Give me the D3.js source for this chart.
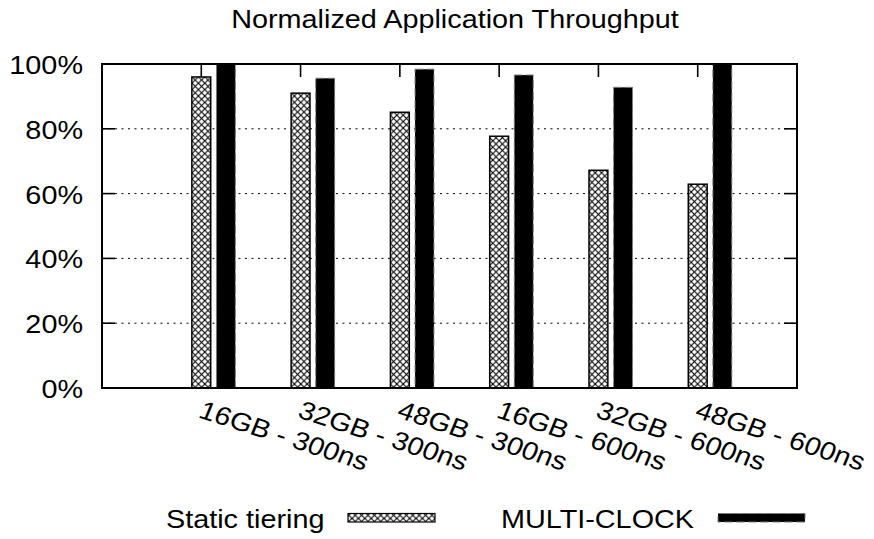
<!DOCTYPE html>
<html>
<head>
<meta charset="utf-8">
<script src="https://cdn.jsdelivr.net/npm/d3@7"></script>
<style>
  body { margin: 0; background: #fff; }
  text { font-family: "Liberation Sans", Arial, sans-serif; font-size: 25.5px; fill: #000; }
</style>
</head>
<body>
<div id="chart"></div>
<script>
// chart data
var categories = ["16GB - 300ns", "32GB - 300ns", "48GB - 300ns", "16GB - 600ns", "32GB - 600ns", "48GB - 600ns"];
var staticTiering = [96, 91, 85.1, 77.7, 67.2, 62.9];
var multiClock = [100, 95.6, 98.4, 96.6, 92.8, 100];
var yTicks = [0, 20, 40, 60, 80, 100];
var seriesNames = ["Static tiering", "MULTI-CLOCK"];

var W = 874, H = 539;
var plot = {left: 102, right: 797, top: 64, bottom: 388};
var sx = 1.13; // text looks horizontally stretched in the original

var svg = d3.select("#chart").append("svg")
  .attr("width", W).attr("height", H);

var defs = svg.append("defs");
var pat = defs.append("pattern")
  .attr("id", "hatch")
  .attr("patternUnits", "userSpaceOnUse")
  .attr("width", 6.4).attr("height", 6.4);
pat.append("rect").attr("width", 6.4).attr("height", 6.4).attr("fill", "#fff");
pat.append("path")
  .attr("d", "M-1,-1L7.4,7.4M-1,7.4L7.4,-1")
  .attr("stroke", "#000").attr("stroke-width", 1.1);

var x = d3.scaleLinear().domain([-1, 6]).range([plot.left, plot.right]);
var y = d3.scaleLinear().domain([0, 100]).range([plot.bottom, plot.top]);

var addText = function(g, px, py, str, anchor, rot){
  var t = g.append("g")
    .attr("transform", "translate(" + px + "," + py + ") scale(" + sx + ",1)" + (rot ? " rotate(" + rot + ")" : ""));
  t.append("text").attr("text-anchor", anchor).text(str);
  return t;
};

// grid lines
svg.append("g").selectAll("line")
  .data(yTicks.filter(function(d){ return d > 0 && d < 100; }))
  .enter().append("line")
  .attr("x1", plot.left).attr("x2", plot.right)
  .attr("y1", function(d){ return y(d); }).attr("y2", function(d){ return y(d); })
  .attr("stroke", "#000").attr("stroke-width", 1)
  .attr("stroke-dasharray", "2,4.5");

// tick marks (inward, mirrored)
var ticks = svg.append("g").attr("stroke", "#000").attr("stroke-width", 1.6);
yTicks.forEach(function(d){
  ticks.append("line").attr("x1", plot.left).attr("x2", plot.left + 13).attr("y1", y(d)).attr("y2", y(d));
  ticks.append("line").attr("x1", plot.right).attr("x2", plot.right - 13).attr("y1", y(d)).attr("y2", y(d));
});
categories.forEach(function(c, i){
  ticks.append("line").attr("x1", x(i)).attr("x2", x(i)).attr("y1", plot.top).attr("y2", plot.top + 13);
  ticks.append("line").attr("x1", x(i)).attr("x2", x(i)).attr("y1", plot.bottom).attr("y2", plot.bottom - 13);
});

// bars
var barW = 0.19;
svg.append("g").selectAll("rect")
  .data(staticTiering)
  .enter().append("rect")
  .attr("x", function(d, i){ return x(i - barW / 2); })
  .attr("width", function(d, i){ return x(i + barW / 2) - x(i - barW / 2); })
  .attr("y", function(d){ return y(d); })
  .attr("height", function(d){ return y(0) - y(d); })
  .attr("fill", "url(#hatch)")
  .attr("stroke", "#000").attr("stroke-width", 1.5);

svg.append("g").selectAll("rect")
  .data(multiClock)
  .enter().append("rect")
  .attr("x", function(d, i){ return x(i + 0.153); })
  .attr("width", function(d, i){ return x(i + 0.153 + barW) - x(i + 0.153); })
  .attr("y", function(d){ return y(d); })
  .attr("height", function(d){ return y(0) - y(d); })
  .attr("fill", "#000")
  .attr("stroke", "#777").attr("stroke-width", 1)
  .attr("stroke-dasharray", "8,4");

// border
svg.append("rect")
  .attr("x", plot.left).attr("y", plot.top)
  .attr("width", plot.right - plot.left).attr("height", plot.bottom - plot.top)
  .attr("fill", "none").attr("stroke", "#000").attr("stroke-width", 2);

// y tick labels
yTicks.forEach(function(d){
  addText(svg, 83, y(d) + 10, d + "%", "end");
});

// x tick labels, rotated
categories.forEach(function(c, i){
  addText(svg, x(i) - 4, plot.bottom + 29, c, "start", 20);
});

// title
addText(svg, 455, 28, "Normalized Application Throughput", "middle");

// legend
addText(svg, 166, 528, seriesNames[0], "start");
svg.append("rect")
  .attr("x", 348).attr("y", 513.5).attr("width", 87).attr("height", 8.5)
  .attr("fill", "url(#hatch)").attr("stroke", "#000").attr("stroke-width", 1.2);
addText(svg, 501, 528, seriesNames[1], "start");
svg.append("rect")
  .attr("x", 718).attr("y", 513.5).attr("width", 87).attr("height", 8.5)
  .attr("fill", "#000").attr("stroke", "#777").attr("stroke-width", 1)
  .attr("stroke-dasharray", "8,4");
</script>
</body>
</html>
